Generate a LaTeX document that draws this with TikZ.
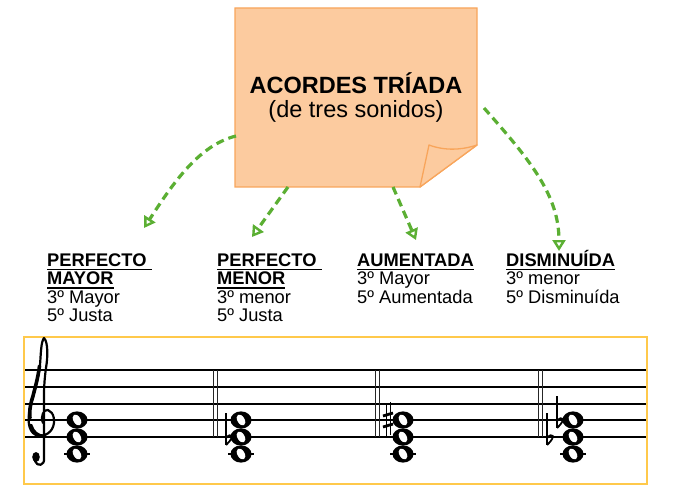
\documentclass[tikz,border=0pt]{standalone}
\usepackage{fontspec}
\setmainfont{Liberation Sans}
\usetikzlibrary{arrows.meta}
\definecolor{notefill}{HTML}{FCCB9F}
\definecolor{noteedge}{HTML}{F8A55B}
\definecolor{arrowgreen}{HTML}{5BAF33}
\definecolor{staffframe}{HTML}{FFC94B}
\newcommand{\myul}[1]{\setbox0\hbox{#1}\rlap{\rule[-4.2pt]{\wd0}{1.3pt}}\box0}
\newcommand{\mywholenote}[2]{%
  \fill (#1,#2) ellipse [x radius=10.5pt, y radius=8.6pt];
  \fill[white] (#1,#2) ellipse [x radius=3.6pt, y radius=6pt, rotate=30];}
\newcommand{\myledger}[2]{\draw[staffline] ({#1-13},#2) -- ({#1+13},#2);}
\newcommand{\myflat}[2]{%
  \draw[line width=1.1pt] (#1,{#2-24}) -- (#1,{#2+8});
  \draw[line width=1.8pt] (#1,{#2+1}) .. controls ({#1+5},{#2-5}) and ({#1+10},{#2-1}) .. (#1,{#2+8});}
\newcommand{\mysharp}[2]{%
  \draw[line width=1pt] ({#1-2},{#2-15}) -- ({#1-2},{#2+18});
  \draw[line width=1pt] ({#1+2},{#2-18}) -- ({#1+2},{#2+15});
  \draw[line width=2.8pt] ({#1-5},{#2-4}) -- ({#1+5},{#2-7});
  \draw[line width=2.8pt] ({#1-5},{#2+7}) -- ({#1+5},{#2+4});}
\begin{document}
\begin{tikzpicture}[x=1pt,y=-1pt,
  staffline/.style={line width=2pt, black},
  barline/.style={line width=1pt, black!85},
  garrow/.style={draw=arrowgreen, line width=3.2pt, dash pattern=on 8pt off 5pt,
    -{Triangle[open, length=11pt, width=13pt, line width=2.4pt]}},
  lbl/.style={anchor=base west, inner sep=0pt, font=\fontsize{18.3}{20}\selectfont},
  lblb/.style={lbl, font=\fontsize{18.3}{20}\selectfont\bfseries}]
\useasboundingbox (0,0) rectangle (676,494);

% sticky note
\draw[fill=notefill, draw=noteedge, line width=1.3pt]
  (235,8) -- (477,8) -- (477,145) -- (420,187) -- (235,187) -- cycle;
\draw[fill=notefill, draw=noteedge, line width=1.3pt, line join=round]
  (429,145) .. controls (445,151) and (462,150) .. (477,145) -- (420,187) -- cycle;
\node[anchor=base, inner sep=0pt, font=\fontsize{23.5}{22.5}\selectfont] (title) at (356,94)
  {\begin{tabular}[t]{@{}c@{}}\bfseries ACORDES TRÍADA\\(de tres sonidos)\end{tabular}};

% connector coordinates
\coordinate (s1) at (236,136);
\coordinate (s2) at (288,187);
\coordinate (s3) at (393,187);
\coordinate (s4) at (484,108);
\coordinate (e1) at (144,228);
\coordinate (e2) at (252,237);
\coordinate (e3) at (416,240);
\coordinate (e4) at (559,251);

\draw[garrow] (s1) .. controls (200,145) and (175,180) .. (e1);
\draw[garrow] (s2) -- (e2);
\draw[garrow] (s3) -- (e3);
\draw[garrow] (s4) .. controls (530,160) and (559,195) .. (e4);

% labels
\node[lblb] (pma1) at (47,266) {\myul{PERFECTO\ }};
\node[lblb] (pma2) at (47,284.5) {\myul{MAYOR}};
\node[lbl] (pma3) at (47,303) {3º Mayor};
\node[lbl] (pma4) at (47,321.5) {5º Justa};

\node[lblb] (pme1) at (217,266) {\myul{PERFECTO\ }};
\node[lblb] (pme2) at (217,284.5) {\myul{MENOR}};
\node[lbl] (pme3) at (217,303) {3º menor};
\node[lbl] (pme4) at (217,321.5) {5º Justa};

\node[lblb] (aum1) at (357,266) {\myul{AUMENTADA}};
\node[lbl] (aum2) at (357,284.5) {3º Mayor};
\node[lbl] (aum3) at (357,303) {5º Aumentada};

\node[lblb] (dis1) at (506,266) {\myul{DISMINUÍDA}};
\node[lbl] (dis2) at (506,284.5) {3º menor};
\node[lbl] (dis3) at (506,303) {5º Disminuída};

% staff frame
\draw[staffframe, line width=1.2pt] (24,337) rectangle (647,484);
\foreach \yy in {370,387,404,420,437} {\draw[staffline] (25,\yy) -- (646,\yy);}

% treble clef
\draw[line width=2.2pt, line cap=round, line join=round]
  (43,423) .. controls (40,416) and (44,409) .. (48,410)
  .. controls (54,412) and (56,422) .. (52,429)
  .. controls (48,436) and (38,438) .. (33,433)
  .. controls (27,427) and (28,415) .. (31,405)
  .. controls (34,392) and (38,380) .. (40,365)
  .. controls (41,352) and (41,342) .. (44,338)
  .. controls (48,342) and (48,356) .. (46,368)
  .. controls (45,375) and (44,385) .. (44,395)
  -- (44,458)
  .. controls (45,466) and (37,467) .. (35,461);
\draw[line width=3.6pt, line cap=round]
  (30,418) .. controls (29,410) and (31,402) .. (33,396)
  .. controls (35,388) and (38,378) .. (39.5,366);
\draw[line width=2.8pt, line cap=round] (31,425) .. controls (33,432) and (38,436) .. (44,436);
\fill (36,457) ellipse [x radius=3.8pt, y radius=5pt];

% barlines
\foreach \xx in {213,217,375.5,379.5,538,542} {\draw[barline] (\xx,370) -- (\xx,437);}

% chords
\myledger{77}{454}
\mywholenote{77}{420}\mywholenote{77}{437}\mywholenote{77}{454}

\myledger{241}{454}
\mywholenote{241}{420}\mywholenote{241}{437}\mywholenote{241}{454}
\myflat{226}{437}

\myledger{403}{454}
\mywholenote{403}{420}\mywholenote{403}{437}\mywholenote{403}{454}
\mysharp{388}{420}

\myledger{573}{454}
\mywholenote{573}{420}\mywholenote{573}{437}\mywholenote{573}{454}
\myflat{547}{437}
\myflat{557}{420}
\end{tikzpicture}
\end{document}
